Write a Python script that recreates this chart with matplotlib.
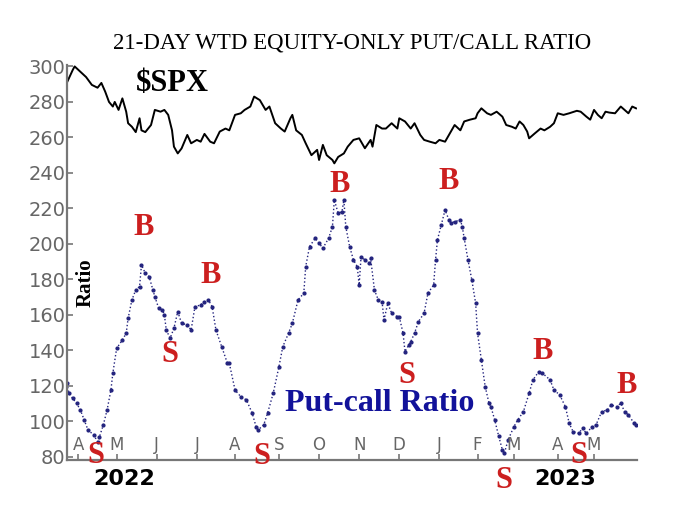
import matplotlib
matplotlib.use('Agg')
import matplotlib.pyplot as plt

# trading-day index (0 = late March 2022) and values
spx_day = [0, 3, 4, 7, 10, 13, 16, 18, 20, 22, 24, 25, 27, 29, 31, 32, 34, 36, 38, 39,
           41, 44, 46, 49, 51, 53, 55, 56, 58, 60, 63, 65, 68, 70, 72, 75, 77, 80, 83, 85,
           88, 91, 93, 96, 98, 101, 104, 106, 109, 112, 114, 117, 118, 120, 123, 125, 128, 131, 132, 134,
           136, 139, 140, 142, 145, 147, 150, 153, 156, 159, 160, 162, 165, 167, 170, 173, 174, 177, 180, 182,
           185, 187, 190, 193, 195, 198, 201, 203, 206, 208, 211, 214, 215, 217, 220, 222, 225, 228, 230, 233,
           235, 237, 239, 241, 242, 245, 248, 250, 253, 255, 257, 260, 263, 267, 269, 272, 274, 276, 278, 280,
           282, 284, 287, 290, 292, 294, 296, 298]
spx_val = [291, 298, 300, 297, 294, 289.6, 288, 290.7, 285.8, 280, 277.4, 280, 275.5, 282, 274.5, 268, 266, 263, 270.8, 264,
           263, 267, 275.5, 274.5, 275.5, 272.7, 264, 254.8, 251, 253.8, 261.4, 256.7, 258.6, 257.6, 262, 257.6, 256.7, 263.3, 265, 264,
           272.7, 273.6, 275.5, 277.4, 283, 281, 275.5, 277.4, 268, 265, 263.3, 270.8, 272.7, 264, 261.4, 256.7, 250, 253, 247.3, 255.8,
           250, 247.3, 245.4, 249, 251, 254.8, 258.6, 259.5, 253.9, 258.6, 254.8, 267, 265, 265, 268, 265, 270.8, 269, 265, 268,
           261.4, 258.6, 257.6, 256.7, 258.6, 257.6, 263.3, 267, 264, 269, 270, 270.8, 273.6, 276.4, 273.6, 272.7, 274.5, 271.7, 267, 266,
           265, 269, 267, 263.3, 259.5, 262.3, 265, 264, 266, 268, 273.6, 272.7, 273.6, 275, 274.5, 271.7, 270, 275.5, 272.7, 270.8,
           274.5, 274, 273.6, 277.4, 275.5, 273.6, 277.4, 276.4]

ratio_day = [0, 1, 3, 5, 7, 9, 11, 14, 16, 17, 19, 21, 23, 24, 26, 29, 31, 32, 34, 36,
             38, 39, 41, 43, 45, 46, 48, 50, 51, 52, 54, 56, 58, 60, 63, 65, 67, 70, 72, 74,
             76, 78, 81, 84, 85, 88, 91, 94, 97, 99, 100, 103, 105, 108, 111, 113, 116, 118, 121, 124,
             125, 127, 130, 132, 134, 137, 139, 140, 142, 144, 145, 146, 148, 150, 152, 153, 154, 156, 158, 159,
             161, 163, 165, 166, 168, 170, 173, 174, 176, 177, 179, 180, 182, 184, 187, 189, 192, 193, 194, 196,
             198, 200, 201, 203, 206, 207, 208, 210, 212, 214, 215, 217, 219, 221, 222, 224, 226, 228, 229, 231,
             234, 236, 239, 242, 244, 247, 249, 253, 255, 258, 261, 263, 265, 268, 270, 272, 275, 277, 280, 283,
             285, 288, 290, 292, 294, 297, 298]
ratio_val = [121.5, 116, 113, 110.3, 106.5, 100.8, 95.2, 92.4, 88.6, 91.4, 98, 106.5, 117.7, 127.2, 141.2, 145.9, 149.7, 158.1, 168.5, 174.1,
             176, 188.2, 183.5, 181.6, 174.1, 170.3, 163.8, 162.8, 160, 151.5, 146.9, 152.5, 161.9, 155.3, 154.4, 151.5, 164.7, 165.6, 167.5, 168.5,
             164.7, 151.5, 142.1, 132.8, 132.8, 117.7, 114, 112.1, 104.6, 97.1, 95.2, 98, 104.6, 115.9, 130.9, 142.1, 149.7, 155.3, 168.5, 172.2,
             187.2, 198.5, 203.2, 200.4, 197.6, 203.2, 209.7, 224.8, 217.3, 218.2, 224.8, 209.7, 198.5, 191, 187.2, 176.9, 192.8, 191, 189.1, 191.9,
             174.1, 168.5, 167.5, 157.2, 166.6, 161, 159, 159, 149.7, 139.3, 143.1, 145, 149.7, 156.2, 161, 172.2, 176.9, 191, 202.3, 210.7,
             219.2, 213.5, 211.6, 212.6, 213.5, 209.7, 203.2, 191, 179.7, 166.6, 149.7, 134.6, 119.6, 110.3, 108.3, 100.8, 92, 84, 82, 89.6,
             97, 100.8, 105.5, 115.9, 123.4, 128, 127.2, 123.4, 117.7, 115, 108.3, 99, 94.3, 93.3, 96.2, 93.3, 97.1, 98, 105.5, 106.5,
             109.3, 108.3, 110.3, 105.5, 103.7, 99, 98]

month_day = [6, 26, 47, 68, 88, 111, 132, 153, 174, 195, 215, 234, 257, 276]
month_lbl = ['A', 'M', 'J', 'J', 'A', 'S', 'O', 'N', 'D', 'J', 'F', 'M', 'A', 'M']
year_lbl = ['2022', '2023']
yticks = [80, 100, 120, 140, 160, 180, 200, 220, 240, 260, 280, 300]

# buy/sell signals: letter and trading day
sig_lbl = ['S', 'B', 'S', 'B', 'S', 'B', 'B', 'S', 'S', 'B', 'S', 'B']
sig_day = [15, 40, 54, 75, 102, 143, 200, 178, 229, 249, 268, 293]

fig = plt.figure(figsize=(7, 5.24), dpi=100)
ax = fig.add_axes([67/700, 1-460/524, 570/700, 395/524])

ax.plot(spx_day, spx_val, color='black', lw=1.4)
ax.plot(ratio_day, ratio_val, color='#23237e', lw=1.0, ls=':', marker='o', ms=2.0)

ax.set_xlim(0, 298.5)
ax.set_ylim(78.3, 300.8)
for s in ['top', 'right']:
  ax.spines[s].set_visible(False)
for s in ['left', 'bottom']:
  ax.spines[s].set_color('#777777')
  ax.spines[s].set_linewidth(1.6)

ax.set_yticks(yticks)
ax.set_yticklabels([str(v) for v in yticks], fontsize=14, color='#666666')
ax.set_xticks(month_day)
ax.set_xticklabels([])
ax.tick_params(axis='both', direction='in', length=4, color='#777777', width=1.2, pad=1)

for d, m in zip(month_day, month_lbl):
  ax.text(d, 86.8, m, ha='center', va='center', fontsize=12, color='#666666')

ax.text(30, 67.5, year_lbl[0], ha='center', va='center', fontsize=16, fontweight='bold', clip_on=False)
ax.text(261, 67.5, year_lbl[1], ha='center', va='center', fontsize=16, fontweight='bold', clip_on=False)

# signal letter heights (chart units)
sig_y = [80.8, 209.5, 137.5, 182, 80.3, 233.7, 235.3, 125.7, 66.8, 139.6, 80.8, 120.5]
for lbl, d, y in zip(sig_lbl, sig_day, sig_y):
  ax.text(d, y, lbl, ha='center', va='center', fontsize=22, fontweight='bold',
          family='Liberation Serif', color='#cc1f1f', clip_on=False)

ax.text(0.5, 1.055, '21-DAY WTD EQUITY-ONLY PUT/CALL RATIO', transform=ax.transAxes,
        ha='center', va='center', fontsize=16.5, family='Liberation Serif')
ax.text(55, 290.5, '$SPX', ha='center', va='center', fontsize=22, fontweight='bold',
        family='Liberation Serif')
ax.text(9.5, 178, 'Ratio', ha='center', va='center', rotation=90, fontsize=15,
        fontweight='bold', family='Liberation Serif')
ax.text(164, 110, 'Put-call Ratio', ha='center', va='center', fontsize=23, fontweight='bold',
        family='Liberation Serif', color='#12129a')

plt.savefig('out.png', dpi=100)
